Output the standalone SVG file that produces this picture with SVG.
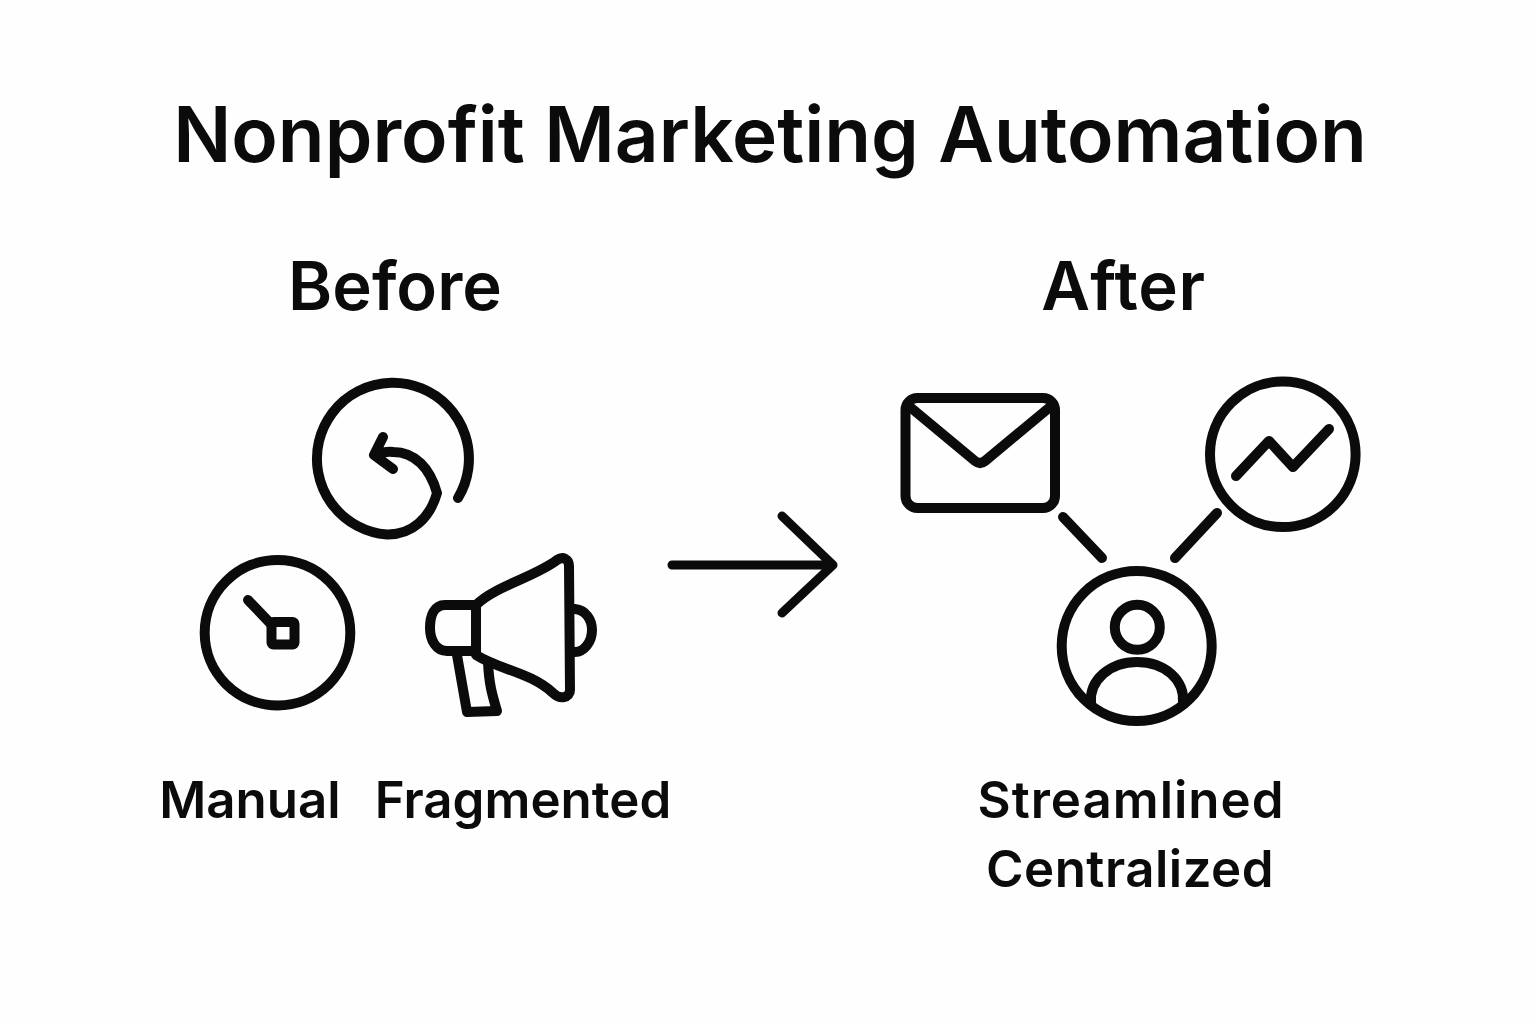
<svg xmlns="http://www.w3.org/2000/svg" width="1536" height="1024" viewBox="0 0 1536 1024">
<style>
text{font-family:Inter,"Liberation Sans",sans-serif;fill:#0b0b0b;text-anchor:middle;font-weight:600}
.t{font-size:76.5px}.h{font-size:67px}.l{font-size:51px}
.s{fill:none;stroke:#0b0b0b;stroke-width:10;stroke-linecap:round;stroke-linejoin:round}
.c{stroke-width:9}
</style>
<rect width="1536" height="1024" fill="#fefefe"/>
<text class="t" x="770" y="162">Nonprofit Marketing Automation</text>
<text class="h" x="395" y="310">Before</text>
<text class="h" x="1123.500" y="310" letter-spacing="0.700">After</text>
<g id="clock"><circle class="s" cx="277.500" cy="632.700" r="72.800"/><path class="s" d="M248 600L270 623"/><rect class="s" x="271.500" y="622" width="23" height="22.500" rx="2"/></g>
<g id="undo"><path class="s" d="M458 498A76 76 0 1 0 387 534.500C412 535 430 518 437 493C430 468 415 452 393 452C387 451 380 453 374 455M383 437L374 455L393 469"/></g>
<g id="megaphone"><path class="s" d="M476 605C495 586 535 577 557 560C563 556 569 559 569 566L570 690C570 698 560 700 553 693C530 672 500 670 476 655ZM476 605H445C434 605 430 616 430 628C430 640 436 651 447 651H476M457 655L467 712L497 711C492 694 489 684 488 662M575 609C586 610 592 620 592 630C592 642 584 652 575 652"/></g>
<text class="l" x="250" y="818">Manual</text>
<text class="l" x="523" y="818">Fragmented</text>
<g id="connectors"><path class="s c" d="M672 565H833M782 516L833 565L782 613"/><path class="s" d="M1063 517L1102 558M1217 513L1175 558"/></g>
<g id="mail"><rect class="s" x="905.500" y="398" width="149.500" height="110" rx="12"/><path class="s" d="M910 407L975 461Q980 465 985 461L1050 407"/></g>
<g id="chart"><circle class="s" cx="1282.800" cy="454.300" r="72.800"/><path class="s" d="M1236 476L1269 441L1293 467L1329 429"/></g>
<g id="user"><circle class="s" cx="1136.700" cy="646" r="75"/><circle class="s" cx="1137.300" cy="627.300" r="22.500"/><path class="s" d="M1091 703C1089 680 1110 662 1137 662C1165 662 1185 680 1183 703"/></g>
<text class="l" x="1131" y="818" letter-spacing="1">Streamlined</text>
<text class="l" x="1130" y="887" letter-spacing="0.500">Centralized</text>
</svg>
